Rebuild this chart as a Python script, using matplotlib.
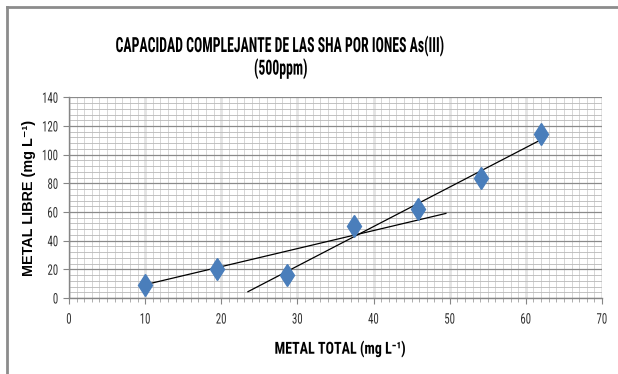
import matplotlib
matplotlib.use("Agg")
import matplotlib.pyplot as plt
from matplotlib.lines import Line2D
from matplotlib.ticker import MultipleLocator
from matplotlib.patheffects import AbstractPathEffect
from matplotlib.transforms import Affine2D

# data
metal_total = [10.0, 19.5, 28.6, 37.4, 45.9, 54.1, 61.95]
metal_libre = [9.0, 20.5, 16.0, 50.3, 62.0, 83.8, 114.6]

# trend lines (end points as drawn)
trend_a_x = [10.0, 49.5]
trend_a_y = [9.3, 59.0]
trend_b_x = [23.5, 61.95]
trend_b_y = [4.4, 110.3]

title = "CAPACIDAD COMPLEJANTE DE LAS SHA POR IONES As(III)\n(500ppm)"
xlabel = "METAL TOTAL (mg L\u207b\u00b9)"
ylabel = "METAL LIBRE (mg L\u207b\u00b9)"

narrow = ["Roboto Condensed", "DejaVu Sans"]
wide = ["Liberation Sans", "DejaVu Sans"]


class Squeeze(AbstractPathEffect):
    """Narrow the glyphs horizontally (the chart uses a very narrow font)."""
    def __init__(self, sx, anchor="center"):
        super().__init__()
        self.sx = sx
        self.anchor = anchor

    def draw_path(self, renderer, gc, tpath, affine, rgbFace=None):
        ext = tpath.get_extents()
        if self.anchor == "right":
            c = ext.x1
        elif self.anchor == "left":
            c = ext.x0
        else:
            c = 0.5 * (ext.x0 + ext.x1)
        t = Affine2D().translate(-c, 0).scale(self.sx, 1).translate(c, 0)
        renderer.draw_path(gc, tpath, t + affine, rgbFace)


fig = plt.figure(figsize=(6.18, 3.74), dpi=100)
ax = fig.add_axes([69/618, 1-298/374, (602-69)/618, (298-97.3)/374])

ax.set_xlim(0, 70)
ax.set_ylim(0, 140)
ax.xaxis.set_major_locator(MultipleLocator(10))
ax.xaxis.set_minor_locator(MultipleLocator(1))
ax.yaxis.set_major_locator(MultipleLocator(20))
ax.yaxis.set_minor_locator(MultipleLocator(4))

# grid like the spreadsheet one
ax.grid(True, axis="x", which="minor", color="#d0d0d0", lw=0.6)
ax.grid(True, axis="x", which="major", color="#e4e4e4", lw=2.0)
ax.grid(True, axis="y", which="minor", color="#b8b8b8", lw=0.6)
ax.grid(True, axis="y", which="major", color="#8a8a8a", lw=0.9)
ax.set_axisbelow(True)

for s in ["top", "right"]:
    ax.spines[s].set_visible(False)
for s in ["left", "bottom"]:
    ax.spines[s].set_color("#868686")
    ax.spines[s].set_linewidth(1.0)

ax.tick_params(which="major", length=4, color="#868686", labelsize=10.5)
ax.tick_params(axis="x", which="major", pad=6.5)
ax.tick_params(axis="y", which="major", pad=3.5)
ax.tick_params(axis="x", which="minor", length=3, color="#a0a0a0")
ax.tick_params(axis="y", which="minor", length=0)
for t in ax.xaxis.get_major_ticks():
    t.label1.set_family(narrow)
    t.label1.set_color("#303030")
    t.label1.set_path_effects([Squeeze(0.74, "center")])
for t in ax.yaxis.get_major_ticks():
    t.label1.set_family(narrow)
    t.label1.set_color("#303030")
    t.label1.set_path_effects([Squeeze(0.74, "right")])

ax.plot(trend_a_x, trend_a_y, color="black", lw=0.9, zorder=3)
ax.plot(trend_b_x, trend_b_y, color="black", lw=0.9, zorder=3)
ax.plot(metal_total, metal_libre, linestyle="none", marker="d", markersize=11.5,
        markerfacecolor="#4a7ebb", markeredgecolor="#4a7ebb", zorder=4)

fig.text(340/618, 1-349/374, xlabel, ha="center", va="center", family=narrow,
         fontweight="bold", fontsize=12, path_effects=[Squeeze(0.84)])
ax.set_ylabel(ylabel, family=wide, fontweight="bold", fontsize=10.4)
ax.yaxis.set_label_coords((29 - 69) / 533, 0.5)
ax.yaxis.label.set_va("center")
fig.text(281/618, 1-57.5/374, title, ha="center", va="center", family=narrow,
         fontweight="bold", fontsize=15, linespacing=1.12,
         path_effects=[Squeeze(0.66)])

# outer chart frame (left and top edges visible)
fig.add_artist(Line2D([7/618, 7/618], [-0.1, 1-7/374], transform=fig.transFigure,
                      color="#8c8c8c", lw=2))
fig.add_artist(Line2D([7/618, 1.1], [1-7/374, 1-7/374], transform=fig.transFigure,
                      color="#8c8c8c", lw=2))

fig.savefig("out.png", dpi=100)
